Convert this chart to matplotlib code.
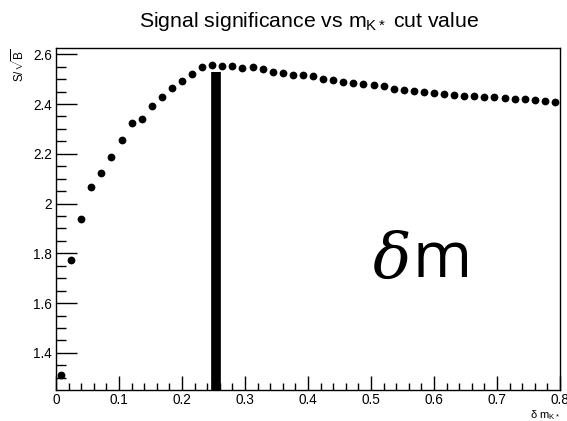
import numpy as np
import matplotlib
matplotlib.use("Agg")
import matplotlib.pyplot as plt
from matplotlib.ticker import MultipleLocator

# Cut values (bin centres) and the resulting significance S/sqrt(B)
n_bins = 50
bin_width = 0.016
cut_values = [bin_width * (i + 0.5) for i in range(n_bins)]
significance = [
    1.311, 1.772, 1.938, 2.068, 2.123, 2.188, 2.255, 2.323, 2.339, 2.392,
    2.428, 2.466, 2.491, 2.519, 2.547, 2.556, 2.554, 2.553, 2.545, 2.548,
    2.540, 2.530, 2.523, 2.518, 2.516, 2.512, 2.501, 2.496, 2.489, 2.484,
    2.480, 2.475, 2.471, 2.462, 2.456, 2.451, 2.448, 2.444, 2.440, 2.438,
    2.434, 2.431, 2.428, 2.427, 2.423, 2.420, 2.419, 2.415, 2.412, 2.408,
]

# Chosen cut marker
best_cut = 0.254
best_cut_top = 2.53

x_range = (0.0, 0.8)
y_range = (1.251, 2.625)

plt.rcParams["font.family"] = ["Liberation Sans", "DejaVu Sans"]
plt.rcParams["mathtext.fontset"] = "custom"
plt.rcParams["mathtext.rm"] = "Liberation Sans"
plt.rcParams["mathtext.it"] = "Liberation Sans"

fig = plt.figure(figsize=(5.67, 4.21), dpi=100)
ax = fig.add_axes([56 / 567, 1 - 390 / 421, 504 / 567, 342 / 421])

ax.plot(cut_values, significance, "o", color="black", markersize=5.6,
        markeredgewidth=0, zorder=3)
ax.vlines(best_cut, y_range[0] - 0.05, best_cut_top, color="black",
          linewidth=7.0, zorder=2)

ax.set_xlim(*x_range)
ax.set_ylim(*y_range)

ax.xaxis.set_major_locator(MultipleLocator(0.1))
ax.xaxis.set_minor_locator(MultipleLocator(0.02))
ax.yaxis.set_major_locator(MultipleLocator(0.2))
ax.yaxis.set_minor_locator(MultipleLocator(0.05))

ax.set_xticks(np.arange(0, 0.81, 0.1))
ax.set_xticklabels(["0", "0.1", "0.2", "0.3", "0.4", "0.5", "0.6", "0.7", "0.8"])
ax.set_yticks([1.4, 1.6, 1.8, 2.0, 2.2, 2.4, 2.6])
ax.set_yticklabels(["1.4", "1.6", "1.8", "2", "2.2", "2.4", "2.6"])

ax.tick_params(axis="both", which="both", direction="in", labelsize=9.8,
               width=1.0, color="black")
ax.tick_params(axis="x", which="major", length=10, pad=2.5)
ax.tick_params(axis="x", which="minor", length=5)
ax.tick_params(axis="y", which="major", length=15, pad=3)
ax.tick_params(axis="y", which="minor", length=7.5)

for side in ax.spines.values():
    side.set_linewidth(1.0)

ax.set_ylabel(r"S/$\sqrt{\rm B}$", fontsize=8.5, loc="top", labelpad=4)
fig.text(560 / 567, 1 - 418 / 421, r"δ m$_{\rm K*}$", ha="right",
         va="baseline", fontsize=8)

fig.text(0.545, 1 - 27 / 421, r"Signal significance vs m$_{\rm K*}$ cut value",
         ha="center", va="baseline", fontsize=15.3)

ax.text(0.533, 1.703, "δ", fontsize=46, ha="center", va="baseline",
        family=["DejaVu Serif"], style="italic")
ax.text(0.613, 1.703, "m", fontsize=46, ha="center", va="baseline",
        family=["Open Sans"])

fig.savefig("out.png", dpi=100, facecolor="white")
